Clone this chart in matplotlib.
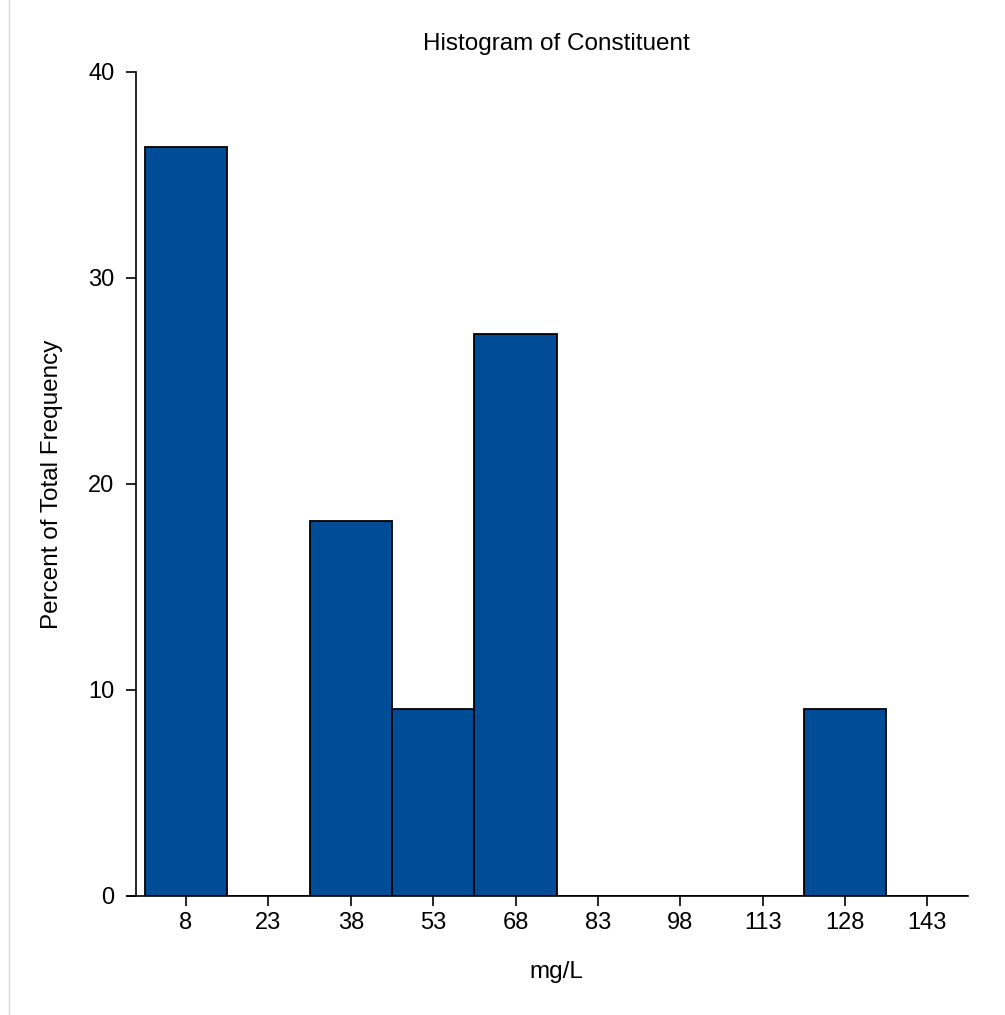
import matplotlib
matplotlib.use("Agg")
import matplotlib.pyplot as plt
from matplotlib.lines import Line2D

plt.rcParams['font.family'] = ['Liberation Sans', 'DejaVu Sans']

bin_centers = [8, 23, 38, 53, 68, 83, 98, 113, 128, 143]
percent = [36.36, 0, 18.18, 9.09, 27.27, 0, 0, 0, 9.09, 0]
y_ticks = [0, 10, 20, 30, 40]
bin_width = 15

W, H = 1005, 1015
fig = plt.figure(figsize=(W / 100, H / 100), dpi=100)
ax = fig.add_axes([127 / W, (H - 896) / H, (968 - 127) / W, (896 - 72) / H])

ax.bar(bin_centers, percent, width=bin_width, color='#004C97',
       edgecolor='black', linewidth=1.3, zorder=3)

ax.set_xlim(-2.75, 150.4)
ax.set_ylim(0, 40)
ax.set_xticks(bin_centers)
ax.set_xticklabels([str(c) for c in bin_centers])
ax.set_yticks(y_ticks)

for s in ['top', 'right']:
    ax.spines[s].set_visible(False)
ax.spines['left'].set_position(('data', -1.1))
ax.spines['left'].set_linewidth(1.2)
ax.spines['bottom'].set_linewidth(1.2)
ax.tick_params(axis='both', direction='out', length=7.5, width=1.2,
               labelsize=17, colors='black')
ax.tick_params(axis='x', pad=4)
ax.tick_params(axis='y', pad=8)

fig.text(556 / W, 1 - 44 / H, 'Histogram of Constituent', ha='center',
         va='center', fontsize=17.5)
fig.text(556 / W, 1 - 972 / H, 'mg/L', ha='center', va='center', fontsize=17.5)
fig.text(52 / W, 1 - 484 / H, 'Percent of Total Frequency', ha='center',
         va='center', rotation=90, fontsize=17.5)

fig.add_artist(Line2D([8.5 / W, 8.5 / W], [0, 1], color='#d9d9d9',
                      linewidth=1, transform=fig.transFigure))

fig.savefig('out.png', dpi=100)
